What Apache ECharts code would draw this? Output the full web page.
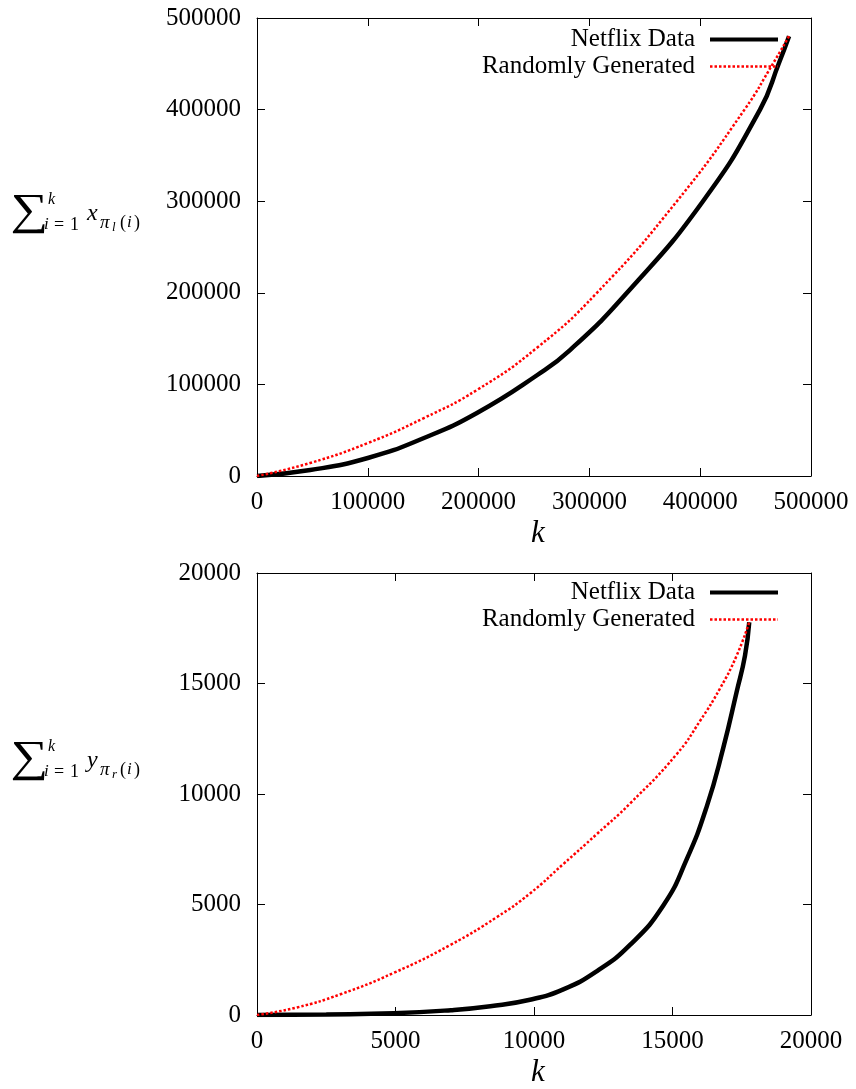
<!DOCTYPE html>
<html><head><meta charset="utf-8">
<script src="https://cdn.jsdelivr.net/npm/echarts@6/dist/echarts.min.js"></script>
<style>html,body{margin:0;padding:0;background:#fff}#c{width:856px;height:1089px}</style>
</head><body><div id="c"></div>
<script>
// ---- Top chart (users): k vs cumulative sum ----
const topNetK = [0, 48000, 100000, 150700, 198500, 252700, 282500, 333900, 402500, 454000, 471100, 480189];
const topNetV = [0, 6500, 19650, 41500, 68800, 110000, 137500, 200000, 300000, 400000, 450900, 480189];
const topRndK = [0, 48000, 100000, 150700, 198500, 252700, 306800, 379000, 440000, 466000, 480189];
const topRndV = [0, 14200, 36000, 63300, 93900, 140000, 200000, 300000, 400000, 450900, 480189];
// ---- Bottom chart (movies) ----
const botNetK = [0, 2500, 4934, 7000, 8423, 9855, 11058, 12262, 13465, 14668, 15511, 16233, 16835, 17317, 17617, 17770];
const botNetV = [0, 25, 76, 220, 400, 690, 1161, 1979, 3170, 4955, 7040, 9419, 12097, 14629, 16263, 17770];
const botRndK = [0, 1444, 3008, 4934, 6979, 8664, 9855, 11058, 12262, 13465, 15150, 15993, 16715, 17317, 17770];
const botRndV = [0, 342, 937, 1905, 3170, 4433, 5500, 6830, 8180, 9566, 11800, 13303, 14776, 16263, 17770];
const seriesNames = ['Netflix Data', 'Randomly Generated'];
const topTicks = [0, 100000, 200000, 300000, 400000, 500000];
const botTicks = [0, 5000, 10000, 15000, 20000];

const pairs = (a, b) => a.map((v, i) => [v, b[i]]);
const FONT = '"Liberation Serif", "DejaVu Serif", serif';
const labelStyle = {color: '#000', fontFamily: FONT, fontSize: 25, formatter: v => String(v)};
const tickStyle = {show: true, inside: true, length: 8, lineStyle: {color: '#000', width: 1}};
const lineStyle = {show: true, onZero: false, lineStyle: {color: '#000', width: 1}};
const NET_LINE = {color: '#000', width: 4.5, type: 'solid'};
const RND_LINE = {color: '#ff0000', width: 2.5, type: [2.5, 2]};

function xAxes(gridIndex, ticks) {
  const max = ticks[ticks.length - 1], interval = ticks[1] - ticks[0];
  return [
    {type: 'value', gridIndex, min: 0, max, interval, position: 'bottom',
     axisLine: lineStyle, axisTick: tickStyle,
     axisLabel: Object.assign({margin: 14}, labelStyle),
     splitLine: {show: false},
     name: 'k', nameLocation: 'middle', nameGap: 42,
     nameTextStyle: {fontFamily: FONT, fontStyle: 'italic', fontSize: 31, color: '#000', padding: [0, 0, 0, 8]}},
    {type: 'value', gridIndex, min: 0, max, interval, position: 'top',
     axisLine: lineStyle, axisTick: tickStyle,
     axisLabel: {show: false}, splitLine: {show: false}}
  ];
}
function yAxes(gridIndex, ticks) {
  const max = ticks[ticks.length - 1], interval = ticks[1] - ticks[0];
  return [
    {type: 'value', gridIndex, min: 0, max, interval, position: 'left',
     axisLine: lineStyle, axisTick: tickStyle,
     axisLabel: Object.assign({margin: 16}, labelStyle),
     splitLine: {show: false}},
    {type: 'value', gridIndex, min: 0, max, interval, position: 'right',
     axisLine: lineStyle, axisTick: tickStyle,
     axisLabel: {show: false}, splitLine: {show: false}}
  ];
}
function mkSeries(name, data, xi, yi, isNet) {
  return {
    name, type: 'line', xAxisIndex: xi, yAxisIndex: yi, data,
    showSymbol: false, symbol: 'none', smooth: 0.5,
    lineStyle: isNet ? NET_LINE : RND_LINE,
    itemStyle: {color: isNet ? '#000' : '#ff0000'},
    z: isNet ? 2 : 3
  };
}
function T(x, y, text, font, extra) {
  return Object.assign({type: 'text', x, y, style: {text, font, fill: '#000', verticalAlign: 'middle'}}, extra || {});
}
function sumLabel(c, letter, sub) {
  const it = 'italic 17px ' + FONT, rm = '18px ' + FONT;
  return [
    T(13, c, '\u2211', '44px ' + FONT, {scaleX: 1.2, originX: 13, originY: c}),
    T(48, c - 12, 'k', 'italic 16px ' + FONT),
    T(44, c + 13, 'i', it),
    T(54, c + 13, '=', rm),
    T(70, c + 13, '1', rm),
    T(87, c + 2, letter, 'italic 24px ' + FONT),
    T(100, c + 11, '\u03c0', 'italic 19px ' + FONT),
    T(112, c + 16, sub, 'italic 13px ' + FONT),
    T(120, c + 11, '(', rm),
    T(127, c + 11, 'i', it),
    T(134, c + 11, ')', rm)
  ];
}
const legendBase = {
  orient: 'vertical', align: 'right', itemWidth: 68, itemHeight: 14, itemGap: 2,
  textStyle: {fontFamily: FONT, fontSize: 25, color: '#000', padding: [0, 10, 0, 0]},
  itemStyle: {opacity: 0, borderWidth: 0},
  data: [
    {name: seriesNames[0], lineStyle: {width: 4, color: '#000', type: 'solid'}},
    {name: seriesNames[1], lineStyle: {width: 2.5, color: '#ff0000', type: [2.5, 2]}}
  ],
  selectedMode: false, padding: 0
};

const chart = echarts.init(document.getElementById('c'), null, {renderer: 'canvas'});
chart.setOption({
  animation: false,
  backgroundColor: '#fff',
  grid: [
    {left: 257, right: 45, top: 18, height: 458},
    {left: 257, right: 45, top: 573, height: 448}
  ],
  xAxis: [...xAxes(0, topTicks), ...xAxes(1, botTicks)],
  yAxis: [...yAxes(0, topTicks), ...yAxes(1, botTicks)],
  legend: [
    Object.assign({}, legendBase, {right: 76, top: 27}),
    Object.assign({}, legendBase, {right: 76, top: 580})
  ],
  series: [
    mkSeries(seriesNames[0], pairs(topNetK, topNetV), 0, 0, true),
    mkSeries(seriesNames[1], pairs(topRndK, topRndV), 0, 0, false),
    mkSeries(seriesNames[0], pairs(botNetK, botNetV), 2, 2, true),
    mkSeries(seriesNames[1], pairs(botRndK, botRndV), 2, 2, false)
  ],
  graphic: [...sumLabel(212, 'x', 'l'), ...sumLabel(759, 'y', 'r')]
});
</script></body></html>
